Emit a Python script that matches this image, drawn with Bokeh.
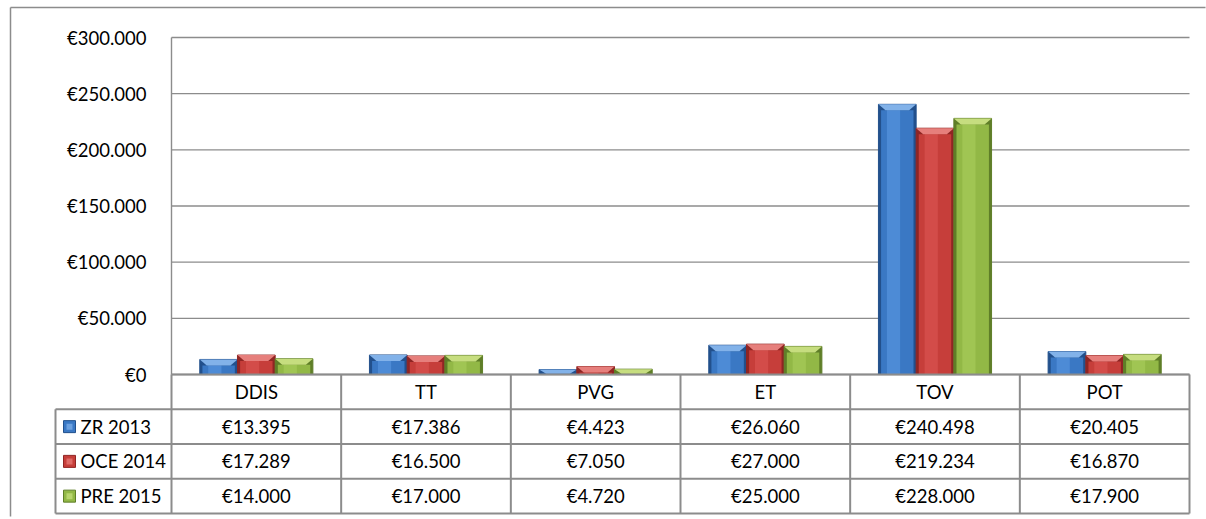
from bokeh.plotting import figure
from bokeh.models import Range1d, LinearAxis, FixedTicker, CustomJSTickFormatter, ColumnDataSource
from bokeh.core.properties import value
from bokeh.embed import file_html
from bokeh.resources import INLINE

# ---------------- data ----------------
categories = ["DDIS", "TT", "PVG", "ET", "TOV", "POT"]
series_names = ["ZR 2013", "OCE 2014", "PRE 2015"]
zr_2013 = [13395, 17386, 4423, 26060, 240498, 20405]
oce_2014 = [17289, 16500, 7050, 27000, 219234, 16870]
pre_2015 = [14000, 17000, 4720, 25000, 228000, 17900]
y_ticks = [0, 50000, 100000, 150000, 200000, 250000, 300000]
series_values = [zr_2013, oce_2014, pre_2015]

# ---------------- style ----------------
main_col = ["#3a78c4", "#c63e3a", "#92b846"]
dark_col = ["#22508c", "#8f2523", "#5f7e28"]
hi_col = ["#5a98e2", "#dc5753", "#aacd5c"]
light_col = ["#8dbdf3", "#f08a86", "#d2e888"]
FONT = "Lato"
FS = "18.5px"
LINE = "#8c8c8c"

# layout (page pixels)
PAGE_L, PAGE_T = 0, 0
W, H = 1206, 517
CAT_L, CAT_R = 171, 1189
LEG_L = 55
PLOT_TOP, ZERO = 37, 374
TABLE_BOTTOM = 513
N_ROWS = 4
ROW_H = (TABLE_BOTTOM - ZERO) / N_ROWS
cat_w = (CAT_R - CAT_L) / len(categories)
px_per_val = (ZERO - PLOT_TOP) / y_ticks[-1]


def xd(px):
    return (px - CAT_L) / cat_w


def yd(py):
    return (ZERO - py) / px_per_val


def rd(py):
    return (py - ZERO) / ROW_H


p = figure(width=W, height=H, output_backend="svg", toolbar_location=None,
           x_range=Range1d(xd(PAGE_L), xd(PAGE_L + W)),
           y_range=Range1d(yd(PAGE_T + H), yd(PAGE_T)),
           min_border=0, x_axis_type=None, y_axis_type=None, title=None)
p.extra_y_ranges = {"table": Range1d(start=rd(PAGE_T + H), end=rd(PAGE_T))}
p.outline_line_color = None
p.background_fill_color = "white"
p.border_fill_color = "white"

ncat = len(categories)

# outer chart border (top and left)
p.segment(x0=[xd(10)], y0=[yd(7)], x1=[xd(W - 1)], y1=[yd(7)],
          line_color=LINE, line_width=1.5)
p.segment(x0=[xd(10)], y0=[yd(7)], x1=[xd(10)], y1=[yd(H - 1)],
          line_color=LINE, line_width=1.5)

# gridlines
p.segment(x0=[0] * len(y_ticks), x1=[ncat] * len(y_ticks), y0=y_ticks, y1=y_ticks,
          line_color=LINE, line_width=1.4)
# value axis line
p.segment(x0=[0], x1=[0], y0=[0], y1=[y_ticks[-1]], line_color=LINE, line_width=1.4)

# y axis labels
fmt = CustomJSTickFormatter(code="""
const s = Math.round(tick).toString().replace(/\\B(?=(\\d{3})+(?!\\d))/g, ".");
return "\u20ac" + s;
""")
yaxis = LinearAxis(fixed_location=0, ticker=FixedTicker(ticks=y_ticks), formatter=fmt,
                   axis_line_color=None, major_tick_line_color=None, minor_tick_line_color=None,
                   major_tick_in=0, major_tick_out=0,
                   major_label_standoff=25, major_label_text_font=FONT,
                   major_label_text_font_size=FS, major_label_text_color="black")
p.add_layout(yaxis, "left")

# bars
n = len(series_values)
bw = 1 / (n + 1.5)
bev_px = 6
ins_px = 7
for k, vals in enumerate(series_values):
    xs = [i + 0.5 + (k - (n - 1) / 2) * bw for i in range(ncat)]
    bev = [min(bev_px / px_per_val, v * 0.85) for v in vals]
    src = ColumnDataSource(dict(x=xs, top=vals, inner=[v - b for v, b in zip(vals, bev)]))
    p.vbar(x="x", top="top", bottom=0, width=bw, source=src,
           fill_color=dark_col[k], line_color=dark_col[k], line_width=1)
    p.vbar(x="x", top="inner", bottom=0, width=bw * 0.86, source=src,
           fill_color=main_col[k], line_color=None)
    src2 = ColumnDataSource(dict(x=[x - bw * 0.1 for x in xs], top=src.data["inner"]))
    p.vbar(x="x", top="top", bottom=0, width=bw * 0.35, source=src2,
           fill_color=hi_col[k], line_color=None, fill_alpha=0.6)
    # top bevel (trapezoid)
    ins = ins_px / cat_w
    pxs, pys = [], []
    for x, v, b in zip(xs, vals, bev):
        pxs.append([x - bw / 2, x + bw / 2, x + bw / 2 - ins, x - bw / 2 + ins])
        pys.append([v, v, v - b, v - b])
    p.patches(xs=pxs, ys=pys, fill_color=light_col[k], line_color=None, fill_alpha=0.9)

# ---------------- data table ----------------
TR = "table"
# vertical lines at category boundaries
p.segment(x0=list(range(ncat + 1)), x1=list(range(ncat + 1)), y0=[0] * (ncat + 1),
          y1=[N_ROWS] * (ncat + 1), y_range_name=TR, line_color=LINE, line_width=2)
# left border of legend column
p.segment(x0=[xd(LEG_L)], x1=[xd(LEG_L)], y0=[1], y1=[N_ROWS], y_range_name=TR,
          line_color=LINE, line_width=2)
# horizontal lines
p.segment(x0=[0] + [xd(LEG_L)] * N_ROWS, x1=[ncat] * (N_ROWS + 1),
          y0=list(range(N_ROWS + 1)), y1=list(range(N_ROWS + 1)), y_range_name=TR,
          line_color=LINE, line_width=2)

# header texts
p.text(x=[i + 0.5 for i in range(ncat)], y=[0.5] * ncat, text=categories, y_range_name=TR,
       text_align="center", text_baseline="middle", text_font=value(FONT),
       text_font_size=FS, text_color="black")


def euro(v):
    return "\u20ac" + f"{v:,}".replace(",", ".")


for k, vals in enumerate(series_values):
    r = k + 1.5
    p.text(x=[i + 0.5 for i in range(ncat)], y=[r] * ncat, text=[euro(v) for v in vals],
           y_range_name=TR, text_align="center", text_baseline="middle",
           text_font=value(FONT), text_font_size=FS, text_color="black")
    # legend key
    p.rect(x=[xd(69)], y=[r], width=12, height=12, width_units="screen",
           height_units="screen", y_range_name=TR, fill_color=main_col[k],
           line_color=dark_col[k], line_width=1)
    p.rect(x=[xd(69)], y=[r], width=6, height=6, width_units="screen",
           height_units="screen", y_range_name=TR, fill_color=light_col[k],
           line_color=None, fill_alpha=0.6)
    p.text(x=[xd(80)], y=[r], text=[series_names[k]], y_range_name=TR,
           text_align="left", text_baseline="middle", text_font=value(FONT),
           text_font_size=FS, text_color="black")

open("out.html", "w").write(file_html(p, INLINE))
